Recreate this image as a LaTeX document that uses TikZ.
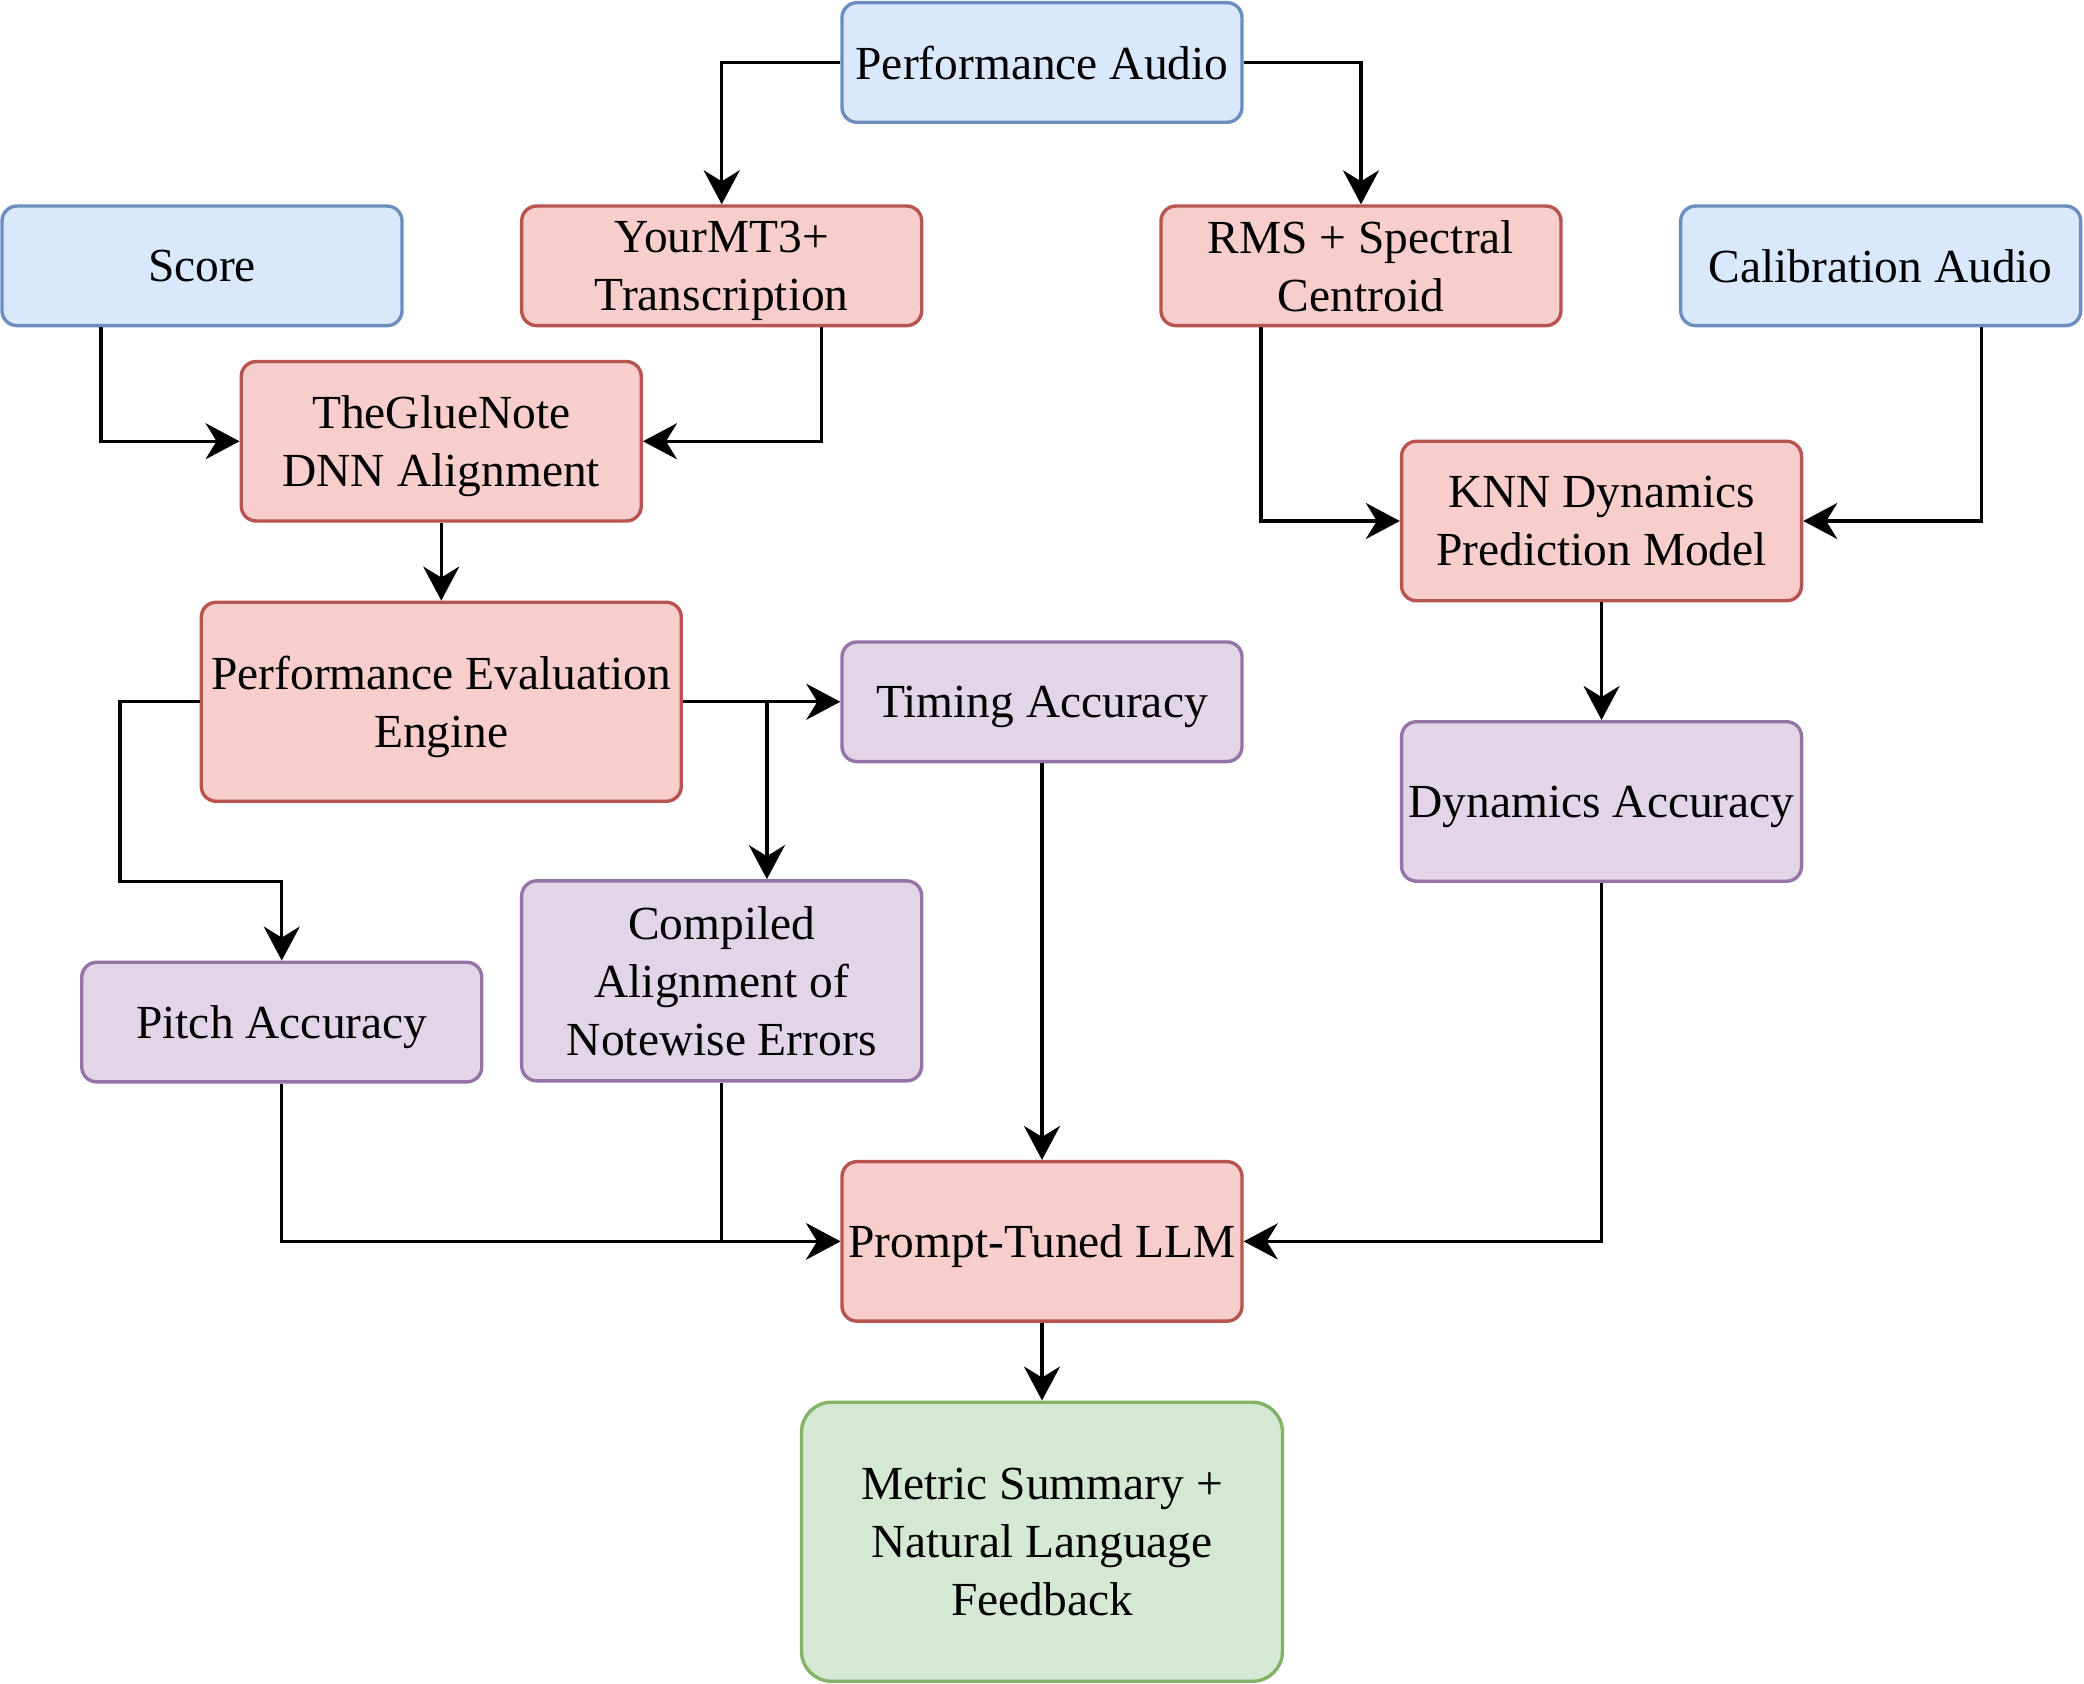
\documentclass[tikz,border=0pt]{standalone}
\usepackage{fontspec}
\setmainfont{Liberation Serif}
\usetikzlibrary{arrows.meta,positioning}

\definecolor{srcfill}{HTML}{DAE8FC}
\definecolor{srcdraw}{HTML}{6C8EBF}
\definecolor{procfill}{HTML}{F8CECC}
\definecolor{procdraw}{HTML}{B85450}
\definecolor{metfill}{HTML}{E1D5E7}
\definecolor{metdraw}{HTML}{9673A6}
\definecolor{outfill}{HTML}{D5E8D4}
\definecolor{outdraw}{HTML}{82B366}

\begin{document}
\begin{tikzpicture}[->,>={Stealth[length=3.4mm,width=3.6mm,inset=1.1mm]},
                    x=0.01329cm,y=-0.01329cm,line width=0.034cm,
                    font=\fontsize{13.5}{16.6}\selectfont]
	\tikzstyle{block}=[rectangle,rounded corners=0.15cm,align=center,inner sep=0pt,
	                   text=black,text depth=0pt,minimum width=4cm,minimum height=1.196cm]
	\tikzstyle{source}=[block,fill=srcfill,draw=srcdraw]
	\tikzstyle{process}=[block,fill=procfill,draw=procdraw]
	\tikzstyle{metric}=[block,fill=metfill,draw=metdraw]
	\tikzstyle{output}=[block,fill=outfill,draw=outdraw,rounded corners=0.3cm,
	                    minimum width=4.81cm,minimum height=2.79cm]

	\useasboundingbox (0,0) rectangle (1568,1267);

	% inputs
	\node[source]  (perf)  at (784,47)   {Performance Audio};
	\node[source]  (score) at (152,200)  {Score};
	\node[source]  (calib) at (1415,200) {Calibration Audio};

	% processing
	\node[process] (mt3)   at (543,200)  {YourMT3+\\Transcription};
	\node[process] (rms)   at (1024,200) {RMS + Spectral\\Centroid};
	\node[process] (glue)  at (332,332)  [minimum height=1.595cm] {TheGlueNote\\DNN Alignment};
	\node[process] (knn)   at (1205,392) [minimum height=1.595cm] {KNN Dynamics\\Prediction Model};
	\node[process] (eval)  at (332,528)  [minimum width=4.8cm,minimum height=1.99cm] {Performance Evaluation\\Engine};

	% metrics
	\node[metric]  (timing) at (784,528)  {Timing Accuracy};
	\node[metric]  (dyn)    at (1205,603) [minimum height=1.595cm] {Dynamics Accuracy};
	\node[metric]  (pitch)  at (212,769)  {Pitch Accuracy};
	\node[metric]  (notes)  at (543,738)  [minimum height=2.0cm] {Compiled\\Alignment of\\Notewise Errors};

	\node[process] (llm)    at (784,934)  [minimum height=1.595cm] {Prompt-Tuned LLM};
	\node[output]  (summary) at (784,1160) {Metric Summary +\\Natural Language\\Feedback};

	\draw (perf.west) -| (mt3.north);
	\draw (perf.east) -| (rms.north);
	\draw ([xshift=-1.01cm]score.south) |- (glue.west);
	\draw ([xshift=1cm]mt3.south) |- (glue.east);
	\draw ([xshift=-1cm]rms.south) |- (knn.west);
	\draw ([xshift=1.01cm]calib.south) |- (knn.east);
	\draw (glue) -- (eval);
	\draw (knn) -- (dyn);
	\draw (eval.east) -- (timing.west);
	\draw (eval.east) -| ([xshift=0.452cm]notes.north);
	\draw (eval.west) -- ++(-60,0) -- ++(0,135) -| (pitch.north);
	\draw (timing) -- (llm);
	\draw (pitch.south) |- (llm.west);
	\draw (notes.south) |- (llm.west);
	\draw (dyn.south) |- (llm.east);
	\draw (llm) -- (summary);
\end{tikzpicture}
\end{document}
